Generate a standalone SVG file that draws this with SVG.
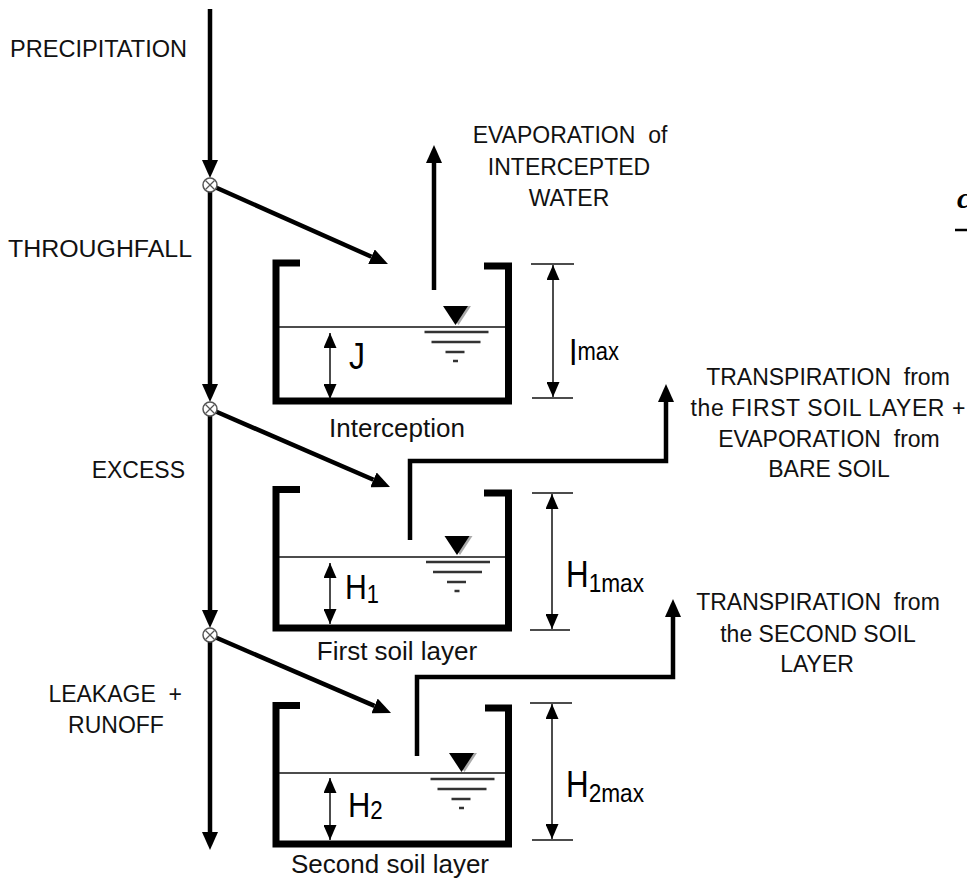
<svg xmlns="http://www.w3.org/2000/svg" width="967" height="882" viewBox="0 0 967 882">
<style>
.t{font-family:"Liberation Sans",Arial,sans-serif;font-size:23px;fill:#111}
.tl{font-family:"Liberation Sans",Arial,sans-serif;font-size:26px;fill:#111}
.big{font-family:"Liberation Sans",Arial,sans-serif;font-size:36px;fill:#000}
.sub{font-size:26px}
.flow{fill:none;stroke:#000;stroke-width:4.5;stroke-linejoin:miter}
.wall{fill:none;stroke:#000;stroke-width:7;stroke-linejoin:miter}
.thin{fill:none;stroke:#111;stroke-width:1.5}
.wl{fill:none;stroke:#333;stroke-width:2.5}
.jn{fill:#fff;stroke:#555;stroke-width:1.5}
</style>
<defs>
<marker id="ah" viewBox="0 0 18 16" refX="0" refY="8" markerWidth="18" markerHeight="16" markerUnits="userSpaceOnUse" orient="auto">
<path d="M0,0 L18,8 L0,16 Z" fill="#000"/>
</marker>
<marker id="sa" viewBox="0 0 15 13" refX="15" refY="6.5" markerWidth="15" markerHeight="13" markerUnits="userSpaceOnUse" orient="auto-start-reverse">
<path d="M0,0 L15,6.5 L0,13 Z" fill="#000"/>
</marker>
<g id="wsym">
<path d="M-9.5,-19 L15.5,-19 L3,0 Z" fill="#aaa"/>
<path d="M-12.5,-19 L12.5,-19 L0,0 Z" fill="#000"/>
<line class="wl" x1="-31" y1="7" x2="33" y2="7"/>
<line class="wl" x1="-24" y1="17" x2="25" y2="17"/>
<line class="wl" x1="-10" y1="27" x2="9" y2="27"/>
<line class="wl" x1="-2.5" y1="36" x2="2.5" y2="36"/>
</g>
<g id="jsym">
<circle class="jn" cx="0" cy="0" r="7"/>
<line x1="-4.5" y1="-4.5" x2="4.5" y2="4.5" stroke="#555" stroke-width="1.3"/>
<line x1="4.5" y1="-4.5" x2="-4.5" y2="4.5" stroke="#555" stroke-width="1.3"/>
</g>
</defs>
<rect width="967" height="882" fill="#fff"/>

<g id="connectors">
<line class="flow" x1="210" y1="9" x2="210" y2="160" marker-end="url(#ah)"/>
<line class="flow" x1="210" y1="192" x2="210" y2="384" marker-end="url(#ah)"/>
<line class="flow" x1="210" y1="416" x2="210" y2="610" marker-end="url(#ah)"/>
<line class="flow" x1="210" y1="642" x2="210" y2="832" marker-end="url(#ah)"/>
<line class="flow" x1="216.4" y1="187.8" x2="371.5" y2="256.7" marker-end="url(#ah)"/>
<line class="flow" x1="216.4" y1="411.8" x2="373.5" y2="479.8" marker-end="url(#ah)"/>
<line class="flow" x1="216.4" y1="637.8" x2="374.5" y2="705.9" marker-end="url(#ah)"/>
<line class="flow" x1="434" y1="290" x2="434" y2="163" marker-end="url(#ah)"/>
<path class="flow" d="M410,540 V461 H666 V402" marker-end="url(#ah)"/>
<path class="flow" d="M417,756 V677 H673 V617" marker-end="url(#ah)"/>
</g>

<g id="junction1"><use href="#jsym" x="210" y="185"/></g>
<g id="junction2"><use href="#jsym" x="210" y="409"/></g>
<g id="junction3"><use href="#jsym" x="210" y="635"/></g>

<g id="flow-labels">
<text class="t" x="10" y="57" textLength="177" lengthAdjust="spacingAndGlyphs">PRECIPITATION</text>
<text class="t" x="8" y="257" textLength="184" lengthAdjust="spacingAndGlyphs">THROUGHFALL</text>
<text class="t" x="185" y="478" text-anchor="end">EXCESS</text>
<text class="t" x="182" y="702" text-anchor="end" xml:space="preserve">LEAKAGE  +</text>
<text class="t" x="116" y="733" text-anchor="middle">RUNOFF</text>
</g>

<g id="evaporation-label">
<text class="t" x="570" y="143" text-anchor="middle" xml:space="preserve">EVAPORATION  of</text>
<text class="t" x="569" y="175" text-anchor="middle">INTERCEPTED</text>
<text class="t" x="569" y="206" text-anchor="middle">WATER</text>
</g>

<g id="interception">
<path class="wall" d="M300,263 H276 V401 H508.5 V266 H484"/>
<line class="thin" x1="279" y1="327" x2="505" y2="327"/>
<use href="#wsym" x="455.5" y="325"/>
<line class="thin" x1="330" y1="333" x2="330" y2="399" marker-start="url(#sa)" marker-end="url(#sa)"/>
<text class="big" x="349" y="369" textLength="16" lengthAdjust="spacingAndGlyphs">J</text>
<line class="thin" x1="531" y1="264" x2="574" y2="264"/>
<line class="thin" x1="532" y1="398" x2="573" y2="398"/>
<line class="thin" x1="553" y1="265" x2="553" y2="397" marker-start="url(#sa)" marker-end="url(#sa)"/>
<text class="big" x="569" y="365" textLength="50" lengthAdjust="spacingAndGlyphs">I<tspan class="sub" dy="-5">max</tspan></text>
<text class="tl" x="397" y="437" text-anchor="middle">Interception</text>
</g>

<g id="first-soil-layer">
<path class="wall" d="M300,489.5 H276 V628 H508.5 V493 H484"/>
<line class="thin" x1="279" y1="557" x2="505" y2="557"/>
<use href="#wsym" x="457" y="555"/>
<line class="thin" x1="330" y1="563" x2="330" y2="624" marker-start="url(#sa)" marker-end="url(#sa)"/>
<text class="big" transform="translate(345,599) scale(0.84,1)">H<tspan class="sub" dy="4">1</tspan></text>
<line class="thin" x1="532" y1="493" x2="573" y2="493"/>
<line class="thin" x1="530" y1="630" x2="570" y2="630"/>
<line class="thin" x1="552" y1="494" x2="552" y2="629" marker-start="url(#sa)" marker-end="url(#sa)"/>
<text class="big" x="566" y="587" textLength="78" lengthAdjust="spacingAndGlyphs">H<tspan class="sub" dy="5">1max</tspan></text>
<text class="tl" x="397" y="660" text-anchor="middle">First soil layer</text>
</g>

<g id="second-soil-layer">
<path class="wall" d="M300,705.5 H276 V844 H508.5 V708 H485"/>
<line class="thin" x1="279" y1="773" x2="505" y2="773"/>
<use href="#wsym" x="461.5" y="772"/>
<line class="thin" x1="330" y1="778" x2="330" y2="840" marker-start="url(#sa)" marker-end="url(#sa)"/>
<text class="big" transform="translate(348,817) scale(0.86,1)">H<tspan class="sub" dy="2">2</tspan></text>
<line class="thin" x1="530" y1="703" x2="572" y2="703"/>
<line class="thin" x1="532" y1="840" x2="573" y2="840"/>
<line class="thin" x1="552" y1="704" x2="552" y2="839" marker-start="url(#sa)" marker-end="url(#sa)"/>
<text class="big" x="566" y="797" textLength="78" lengthAdjust="spacingAndGlyphs">H<tspan class="sub" dy="5">2max</tspan></text>
<text class="tl" x="390" y="873" text-anchor="middle">Second soil layer</text>
</g>

<g id="transpiration1-label">
<text class="t" x="828" y="385" text-anchor="middle" xml:space="preserve">TRANSPIRATION  from</text>
<text class="t" x="828" y="416" text-anchor="middle" xml:space="preserve" textLength="275" lengthAdjust="spacing">the FIRST SOIL LAYER +</text>
<text class="t" x="829" y="447" text-anchor="middle" xml:space="preserve">EVAPORATION  from</text>
<text class="t" x="829" y="477" text-anchor="middle">BARE SOIL</text>
</g>

<g id="transpiration2-label">
<text class="t" x="818" y="610" text-anchor="middle" xml:space="preserve">TRANSPIRATION  from</text>
<text class="t" x="818" y="642" text-anchor="middle">the SECOND SOIL</text>
<text class="t" x="817" y="672" text-anchor="middle">LAYER</text>
</g>

<g id="edge-fragment">
<text x="957" y="208" font-family="Liberation Serif, serif" font-size="30" font-style="italic" font-weight="bold" fill="#000">c</text>
<line x1="955" y1="230" x2="967" y2="230" stroke="#000" stroke-width="2.5"/>
</g>
</svg>
